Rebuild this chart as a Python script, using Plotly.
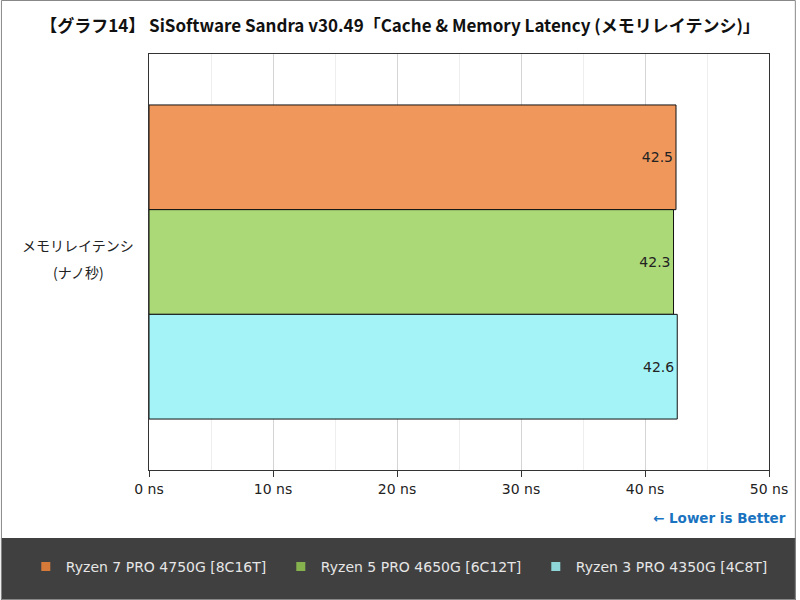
import plotly.graph_objects as go

# データ
category = "メモリレイテンシ"
cpus = ["Ryzen 7 PRO 4750G [8C16T]", "Ryzen 5 PRO 4650G [6C12T]", "Ryzen 3 PRO 4350G [4C8T]"]
latency_ns = [42.5, 42.3, 42.6]
bar_colors = ["#F0985C", "#ABD977", "#A4F4F7"]
legend_colors = ["#D67A3A", "#86B24E", "#8ED6D8"]
x_ticks = [0, 10, 20, 30, 40, 50]
x_tick_labels = [f"{v} ns" for v in x_ticks]

W, H = 800, 600
L, R, T, B = 149, 27, 54, 130
pw, ph = W - L - R, H - T - B


def px_x(p):
    return (p - L) / pw


def px_y(p):
    return (H - B - p) / ph


fig = go.Figure()

for name, val, col in zip(cpus, latency_ns, bar_colors):
    fig.add_trace(go.Bar(
        y=[category], x=[val], orientation="h", name=name,
        marker=dict(color=col, line=dict(color="#111111", width=1)),
        text=[f"{val:.1f}"], textposition="inside", insidetextanchor="end",
        textfont=dict(family="DejaVu Sans", size=14, color="#222222"),
        showlegend=False, hoverinfo="x+name",
    ))

# 凡例用のダミー
for name, col in zip(cpus, legend_colors):
    fig.add_trace(go.Scatter(
        x=[None], y=[None], mode="markers", name=name,
        marker=dict(symbol="square", size=9, color=col),
    ))

# 背景の枠と凡例の帯
fig.add_shape(type="rect", xref="paper", yref="paper",
              x0=px_x(0), x1=px_x(W), y0=px_y(600), y1=px_y(538),
              fillcolor="#404040", line=dict(width=0), layer="below")
fig.add_shape(type="rect", xref="paper", yref="paper",
              x0=px_x(0.5), x1=px_x(W - 0.5), y0=px_y(H - 0.5), y1=px_y(0.5),
              fillcolor="rgba(0,0,0,0)", line=dict(color="#888888", width=1))

# 縦軸ラベル (中央揃え 2 行)
fig.add_annotation(
    x=px_x(78), y=px_y(245), xref="paper", yref="paper",
    xanchor="center", yanchor="middle",
    text="メモリレイテンシ", showarrow=False,
    font=dict(family="Noto Sans CJK JP", size=14, color="#222222"),
)
fig.add_annotation(
    x=px_x(78), y=px_y(272), xref="paper", yref="paper",
    xanchor="center", yanchor="middle",
    text="(ナノ秒)", showarrow=False,
    font=dict(family="Noto Sans CJK JP", size=14, color="#222222"),
)
fig.add_annotation(
    x=px_x(792), y=px_y(518), xref="paper", yref="paper",
    xanchor="right", yanchor="middle",
    text="<b>← Lower is Better</b>", showarrow=False,
    font=dict(family="DejaVu Sans", size=13.5, color="#1a73c0"),
)

fig.update_layout(
    width=W, height=H,
    margin=dict(l=L, r=R, t=T, b=B),
    paper_bgcolor="white", plot_bgcolor="white",
    title=dict(
        text="<b>【グラフ14】 SiSoftware Sandra v30.49「Cache & Memory Latency (メモリレイテンシ)」</b>",
        x=0.5, xanchor="center", y=1 - 26 / H, yanchor="middle",
        font=dict(family="Noto Sans CJK JP", size=17, color="#111111"),
    ),
    barmode="group", bargap=0.245, bargroupgap=0,
    legend=dict(
        orientation="h", x=px_x(25), y=px_y(567), xanchor="left", yanchor="middle",
        font=dict(family="DejaVu Sans", size=14, color="#e6e6e6"),
        bgcolor="rgba(0,0,0,0)", entrywidth=210, itemwidth=30,
    ),
    xaxis=dict(
        range=[0, 50], tickvals=x_ticks, ticktext=x_tick_labels,
        showline=True, linecolor="#333333", linewidth=1, mirror=True,
        ticks="outside", ticklen=6, tickcolor="#333333",
        showgrid=True, gridcolor="#d4d4d4", zeroline=False,
        minor=dict(dtick=5, showgrid=True, gridcolor="#eeeeee"),
        tickfont=dict(family="DejaVu Sans", size=14, color="#222222"),
    ),
    yaxis=dict(
        autorange="reversed", showticklabels=False,
        showline=True, linecolor="#333333", linewidth=1, mirror=True,
        showgrid=False,
    ),
)

# ページ余白をなくして 800x600 にぴったり合わせる
fig.write_html("out.html", config={"displayModeBar": False},
               post_script="document.body.style.margin='0';")
